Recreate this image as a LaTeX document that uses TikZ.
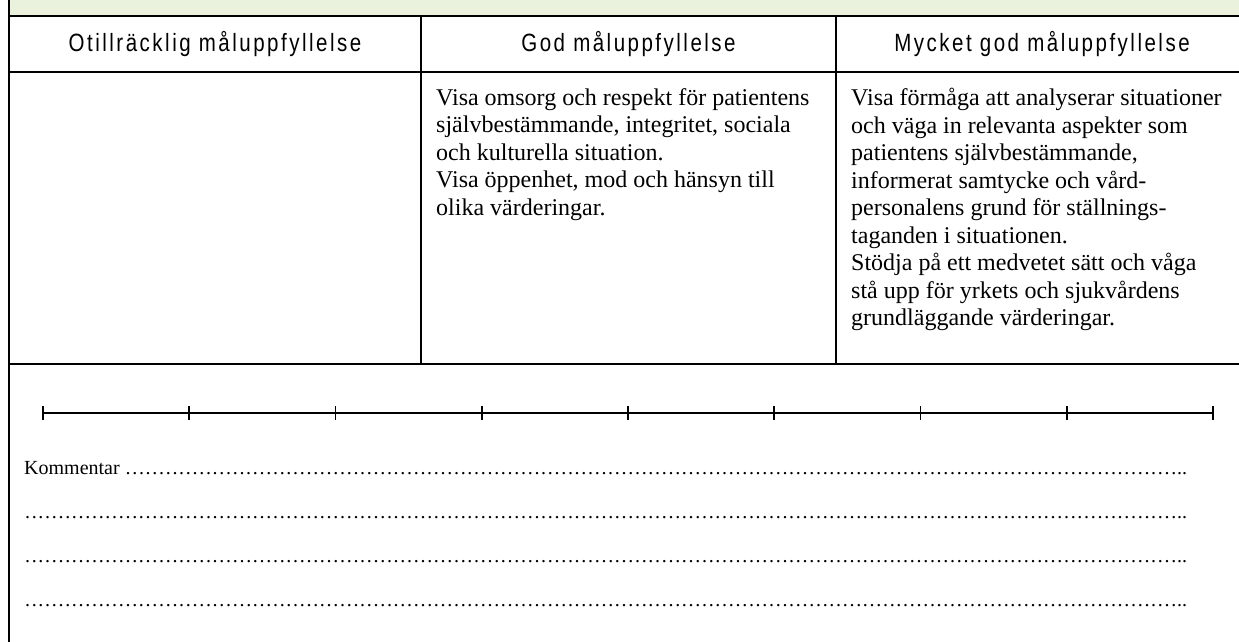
\documentclass[tikz,border=0pt]{standalone}
\usepackage{fontspec}
\setmainfont{Liberation Serif}
\newfontfamily\headfont[FakeStretch=0.82,LetterSpace=10]{Liberation Sans}
\usetikzlibrary{positioning}
\definecolor{bandgreen}{HTML}{EAF1DD}

% one row of leader dots for the comment lines
\newcommand{\dotrow}[1]{\hbox to 1163pt{#1\xleaders\hbox to 6.7pt{\hss.\hss}\hfill..}}

\begin{document}
\begin{tikzpicture}[x=1pt,y=-1pt,
    rule/.style={line width=2.6pt},
    head/.style={anchor=base,inner sep=0pt,font=\headfont\fontsize{25}{29}\selectfont},
    cell/.style={anchor=north west,align=left,inner sep=0pt,font=\fontsize{24}{27.5}\selectfont},
    comment/.style={anchor=base west,inner sep=0pt,font=\fontsize{20}{22}\selectfont},
    tick/.style={line width=1.8pt}
  ]
  \useasboundingbox (0,0) rectangle (1239,642);

  % Left border and column edges (three equal columns)
  \pgfmathsetmacro{\xl}{9}
  \pgfmathsetmacro{\xa}{421}
  \pgfmathsetmacro{\xb}{836}
  \pgfmathsetmacro{\xr}{1248}
  % Row edges
  \pgfmathsetmacro{\ya}{16}
  \pgfmathsetmacro{\yb}{72}
  \pgfmathsetmacro{\yc}{364}
  % Rating scale
  \pgfmathsetmacro{\ys}{413}
  \pgfmathsetmacro{\sstep}{146.25}

  % Green band on top
  \fill[bandgreen] (\xl,0) rectangle (\xr,\ya);

  % Table rules
  \draw[rule] (\xl,0) -- (\xl,642);
  \draw[rule] (\xl,\ya) -- (\xr,\ya);
  \draw[rule] (\xl,\yb) -- (\xr,\yb);
  \draw[rule] (\xl,\yc) -- (\xr,\yc);
  \draw[rule] (\xa,\ya) -- (\xa,\yc);
  \draw[rule] (\xb,\ya) -- (\xb,\yc);

  % Header row
  \node[head] (otill) at ({(\xl+\xa)/2},52) {Otillräcklig måluppfyllelse};
  \node[head] (god) at ({(\xa+\xb)/2},52) {God måluppfyllelse};
  \node[head] (mycket) at ({(\xb+\xr)/2},52) {Mycket god måluppfyllelse};

  % Criteria
  \node[cell] (godtext) at (436,88) {Visa omsorg och respekt för patientens\\
    självbestämmande, integritet, sociala\\
    och kulturella situation.\\
    Visa öppenhet, mod och hänsyn till\\
    olika värderingar.};
  \node[cell] (mycktext) at (851,88) {Visa förmåga att analyserar situationer\\
    och väga in relevanta aspekter som\\
    patientens självbestämmande,\\
    informerat samtycke och vård-\\
    personalens grund för ställnings-\\
    taganden i situationen.\\
    Stödja på ett medvetet sätt och våga\\
    stå upp för yrkets och sjukvårdens\\
    grundläggande värderingar.};

  % Rating scale
  \draw[tick] (43,\ys) -- ({43+8*\sstep},\ys);
  \foreach \i in {0,...,8}
    \draw[tick] ({43+\i*\sstep},{\ys-7}) -- ++(0,14);

  % Comment lines
  \node[comment] (komm) at (24,474) {\dotrow{Kommentar }};
  \foreach \n/\y in {a/518,b/562,c/606}
    \node[comment] (rad\n) at (24,\y) {\dotrow{}};

\end{tikzpicture}
\end{document}
